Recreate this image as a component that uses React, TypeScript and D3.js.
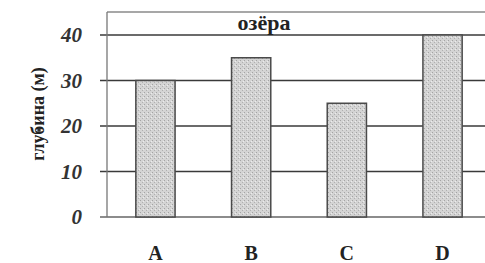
import React, { useEffect, useRef } from 'react';
import * as d3 from 'd3';

const categories = ['A', 'B', 'C', 'D'];
const depths = [30, 35, 25, 40];
const yTicks = [0, 10, 20, 30, 40];

const W = 485;
const H = 263;
const SERIF = "'Liberation Serif', 'DejaVu Serif', serif";

const App: React.FC = () => {
  const svgRef = useRef<SVGSVGElement>(null);

  useEffect(() => {
    if (!svgRef.current) return;
    const svg = d3.select(svgRef.current);
    svg.selectAll('*').remove();

    const left = 107;
    const right = 485;
    const frameTop = 12;

    // band range shifted slightly so the bars land where the scan has them
    const x = d3.scaleBand<string>().domain(categories).range([110, 488]).paddingInner(0.59).paddingOuter(0.27);
    const y = d3.scaleLinear().domain([0, 40]).range([217, 35]);

    // stipple pattern
    const defs = svg.append('defs');
    const pat = defs.append('pattern')
      .attr('id', 'stip')
      .attr('width', 4).attr('height', 4)
      .attr('patternUnits', 'userSpaceOnUse');
    pat.append('rect').attr('width', 4).attr('height', 4).attr('fill', '#d4d4d4');
    pat.append('rect').attr('x', 0).attr('y', 0).attr('width', 1).attr('height', 1).attr('fill', '#a4a4a4');
    pat.append('rect').attr('x', 2).attr('y', 2).attr('width', 1).attr('height', 1).attr('fill', '#b0b0b0');
    pat.append('rect').attr('x', 3).attr('y', 1).attr('width', 1).attr('height', 1).attr('fill', '#ececec');

    const g = svg.append('g');

    // frame top line
    g.append('line')
      .attr('x1', left).attr('x2', right)
      .attr('y1', frameTop).attr('y2', frameTop)
      .attr('stroke', '#8a8a8a').attr('stroke-width', 1.5);

    // gridlines + ticks
    yTicks.forEach(t => {
      g.append('line')
        .attr('x1', left - 7).attr('x2', right)
        .attr('y1', y(t)).attr('y2', y(t))
        .attr('stroke', t === 0 ? '#666' : '#3a3a3a')
        .attr('stroke-width', t === 0 ? 1.4 : 1.6);
      g.append('text')
        .attr('x', 82).attr('y', y(t) + 7)
        .attr('text-anchor', 'end')
        .attr('font-family', SERIF)
        .attr('font-style', 'italic')
        .attr('font-weight', 'bold')
        .attr('font-size', 21)
        .attr('fill', '#333')
        .text(t);
    });

    // left axis
    g.append('line')
      .attr('x1', left).attr('x2', left)
      .attr('y1', frameTop).attr('y2', y(0))
      .attr('stroke', '#777').attr('stroke-width', 1.3);

    // bars
    g.selectAll('rect.bar')
      .data(depths)
      .enter().append('rect')
      .attr('class', 'bar')
      .attr('x', (d, i) => x(categories[i])!)
      .attr('y', d => y(d))
      .attr('width', x.bandwidth())
      .attr('height', d => y(0) - y(d))
      .attr('fill', 'url(#stip)')
      .attr('stroke', '#4a4a4a')
      .attr('stroke-width', 1.5);

    // category labels
    g.selectAll('text.cat')
      .data(categories)
      .enter().append('text')
      .attr('class', 'cat')
      .attr('x', d => x(d)! + x.bandwidth() / 2)
      .attr('y', 260)
      .attr('text-anchor', 'middle')
      .attr('font-family', SERIF)
      .attr('font-weight', 'bold')
      .attr('font-size', 20)
      .attr('fill', '#222')
      .text(d => d);

    // title
    g.append('text')
      .attr('x', 264).attr('y', 30)
      .attr('text-anchor', 'middle')
      .attr('font-family', SERIF)
      .attr('font-weight', 'bold')
      .attr('font-size', 22)
      .attr('fill', '#222')
      .text('озёра');

    // y label
    g.append('text')
      .attr('transform', 'translate(44,114) rotate(-90)')
      .attr('text-anchor', 'middle')
      .attr('font-family', SERIF)
      .attr('font-weight', 'bold')
      .attr('font-size', 18)
      .attr('fill', '#222')
      .text('глубина (м)');
    g.append('circle').attr('cx', 39).attr('cy', 130).attr('r', 1.8).attr('fill', '#333');
  }, []);

  return (
    <div style={{ position: 'absolute', left: 0, top: 0, width: W, height: H, background: '#fff' }}>
      <svg ref={svgRef} width={W} height={H} viewBox={`0 0 ${W} ${H}`} />
    </div>
  );
};

export default App;
